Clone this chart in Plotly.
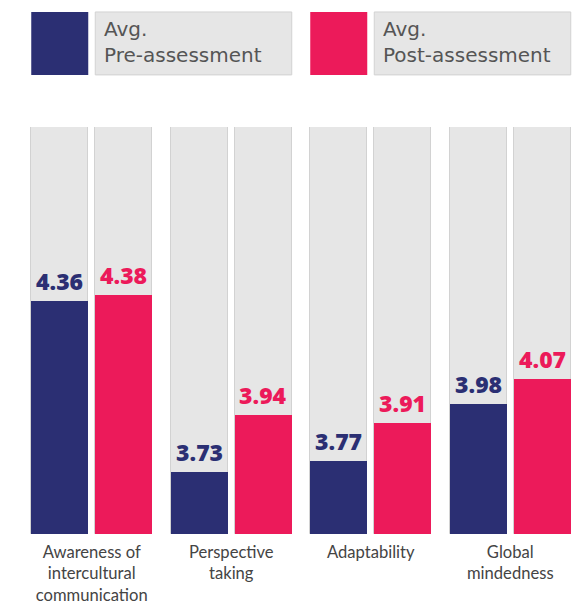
import plotly.graph_objects as go

categories = ["Awareness of intercultural communication", "Perspective taking", "Adaptability", "Global mindedness"]
tick_labels = ["Awareness of<br>intercultural<br>communication", "Perspective<br>taking", "Adaptability", "Global<br>mindedness"]
pre_values = [4.36, 3.73, 3.77, 3.98]
post_values = [4.38, 3.94, 3.91, 4.07]
series_names = ["Avg.<br>Pre-assessment", "Avg.<br>Post-assessment"]
scale_min = 3.5
scale_max = 5.0

NAVY = "#2b2f73"
PINK = "#ec1a5a"
GREY = "#e6e6e6"
GREY_LINE = "#d2d2d2"

W = 0.4086           # bar width in category units
PRE_OFF = -0.4337    # left edge offset of pre bar
POST_OFF = 0.0251    # left edge offset of post bar
idx = list(range(len(categories)))

fig = go.Figure()
for off in (PRE_OFF, POST_OFF):
    fig.add_trace(go.Bar(
        x=idx, y=[scale_max - scale_min] * len(idx), base=scale_min,
        width=W, offset=off, marker=dict(color=GREY, line=dict(color=GREY_LINE, width=1)),
        showlegend=False, hoverinfo="skip"))

fig.add_trace(go.Bar(x=idx, y=[v - scale_min for v in pre_values], base=scale_min,
                     width=W, offset=PRE_OFF, marker=dict(color=NAVY, line=dict(width=0)),
                     name="Avg. Pre-assessment", showlegend=False))
fig.add_trace(go.Bar(x=idx, y=[v - scale_min for v in post_values], base=scale_min,
                     width=W, offset=POST_OFF, marker=dict(color=PINK, line=dict(width=0)),
                     name="Avg. Post-assessment", showlegend=False))

annotations = []
VAL_FONT = dict(family="Open Sans", size=23, weight=800)
for i in idx:
    annotations.append(dict(x=i + PRE_OFF + W / 2, y=pre_values[i], xref="x", yref="y",
                            text=f"{pre_values[i]:.2f}", showarrow=False, yanchor="bottom",
                            yshift=2, font=dict(VAL_FONT, color=NAVY)))
    annotations.append(dict(x=i + POST_OFF + W / 2, y=post_values[i], xref="x", yref="y",
                            text=f"{post_values[i]:.2f}", showarrow=False, yanchor="bottom",
                            yshift=2, font=dict(VAL_FONT, color=PINK)))

# legend (swatch + grey label box)
LEG_Y0, LEG_Y1 = 1.128, 1.2826
shapes = [
    dict(type="rect", xref="x", yref="paper", x0=0 + PRE_OFF, x1=0 + PRE_OFF + W, y0=LEG_Y0, y1=LEG_Y1,
         fillcolor=NAVY, line=dict(width=0)),
    dict(type="rect", xref="x", yref="paper", x0=0 + POST_OFF, x1=1 + POST_OFF + W, y0=LEG_Y0, y1=LEG_Y1,
         fillcolor=GREY, line=dict(color=GREY_LINE, width=1)),
    dict(type="rect", xref="x", yref="paper", x0=2 + PRE_OFF, x1=2 + PRE_OFF + W, y0=LEG_Y0, y1=LEG_Y1,
         fillcolor=PINK, line=dict(width=0)),
    dict(type="rect", xref="x", yref="paper", x0=2 + POST_OFF, x1=3 + POST_OFF + W, y0=LEG_Y0, y1=LEG_Y1,
         fillcolor=GREY, line=dict(color=GREY_LINE, width=1)),
]
LEG_FONT = dict(family="DejaVu Sans", size=20, color="#555555")
annotations.append(dict(x=0 + POST_OFF, y=(LEG_Y0 + LEG_Y1) / 2, xref="x", yref="paper",
                        text=series_names[0], showarrow=False, xanchor="left", yanchor="middle",
                        xshift=7, yshift=1, align="left", font=LEG_FONT))
annotations.append(dict(x=2 + POST_OFF, y=(LEG_Y0 + LEG_Y1) / 2, xref="x", yref="paper",
                        text=series_names[1], showarrow=False, xanchor="left", yanchor="middle",
                        xshift=7, yshift=1, align="left", font=LEG_FONT))

fig.update_layout(
    width=585, height=606,
    margin=dict(l=22, r=5, t=127, b=72, autoexpand=False),
    paper_bgcolor="white", plot_bgcolor="white",
    barmode="overlay", bargap=0,
    xaxis=dict(range=[-0.5, 3.5], tickmode="array", tickvals=idx, ticktext=tick_labels,
               showgrid=False, zeroline=False, showline=False, ticks="",
               ticklabelstandoff=6, automargin=False,
               tickfont=dict(family="Lato", size=16.6, color="#444444")),
    yaxis=dict(range=[scale_min, scale_max], visible=False, showgrid=False, zeroline=False,
               automargin=False),
    shapes=shapes, annotations=annotations,
)

fig.write_html("out.html", config={"displayModeBar": False},
               post_script="document.body.style.margin='0';")
